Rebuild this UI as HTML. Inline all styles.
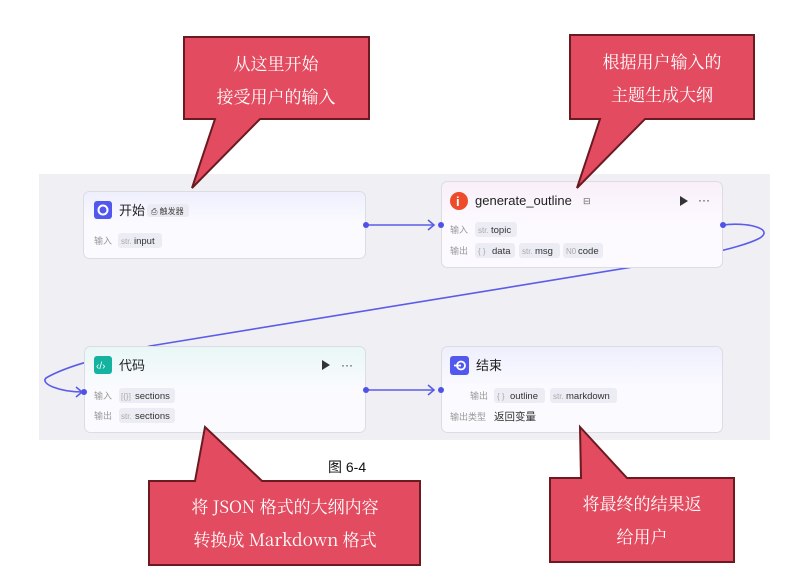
<!DOCTYPE html>
<html><head><meta charset="utf-8"><style>
html,body{margin:0;padding:0;background:#fff;}
svg{display:block;}
.n{font-family:"Liberation Sans","Noto Sans CJK SC",sans-serif;}
.c{font-family:"Noto Serif CJK SC","Liberation Serif",serif;fill:#fff;font-size:17px;}
.t{font-size:13px;fill:#222;}
.l{font-size:9px;fill:#999;}
.v{font-size:9.5px;fill:#333;}
.g{font-size:8px;fill:#aaa;}
</style></head><body>
<svg width="801" height="576" viewBox="0 0 801 576" xmlns="http://www.w3.org/2000/svg">
<defs>
<linearGradient id="gs" x1="0" y1="0" x2="0" y2="1"><stop offset="0" stop-color="#eeeffd"/><stop offset="0.5" stop-color="#fbfbff"/></linearGradient>
<linearGradient id="gg" x1="0" y1="0" x2="0" y2="1"><stop offset="0" stop-color="#f9eff9"/><stop offset="0.5" stop-color="#fcfaff"/></linearGradient>
<linearGradient id="gc" x1="0" y1="0" x2="0" y2="1"><stop offset="0" stop-color="#e8f7f5"/><stop offset="0.5" stop-color="#fbfbff"/></linearGradient>
<linearGradient id="ge" x1="0" y1="0" x2="0" y2="1"><stop offset="0" stop-color="#eeeffd"/><stop offset="0.5" stop-color="#fbfbff"/></linearGradient>
</defs>
<rect x="39" y="174" width="731" height="266" fill="#f0eff4"/>
<g fill="none" stroke="#5b5de8" stroke-width="1.6">
<path d="M366 225 H433"/><path d="M428 220 L434 225 L428 230"/>
<path d="M366 390 H433"/><path d="M428 385 L434 390 L428 395"/>
<path d="M723 225 C745 222 775 228 760 238 C745 246 715 252 700 256 L150 346 C110 356 70 364 46 378 C40 384 60 392 83 392"/>
<path d="M76 387 L82 392 L76 397"/>
</g>
<g class="n">
<!-- start node -->
<rect x="83.5" y="191.5" width="282" height="67" rx="6" fill="url(#gs)" stroke="#dcdce6"/>
<rect x="94" y="201" width="18" height="18" rx="3" fill="#5258ee"/><circle cx="103" cy="210" r="4.5" fill="none" stroke="#fff" stroke-width="2"/>
<text x="119" y="215" class="t">开始</text>
<rect x="147" y="204" width="42" height="13" rx="3" fill="#ebebf3"/><text x="151" y="214" style="font-size:8px;fill:#444">⎙ 触发器</text>
<text x="94" y="244" class="l">输入</text>
<rect x="118" y="233" width="44" height="15" rx="3" fill="#ececf4"/><text x="121" y="244" class="g">str.</text><text x="134" y="244" class="v">input</text>
<!-- generate -->
<rect x="441.5" y="181.5" width="281" height="86" rx="6" fill="url(#gg)" stroke="#dcdce6"/>
<circle cx="459" cy="201" r="9" fill="#ee4b2b"/><text x="456" y="206" style="font-size:13px;fill:#fff;font-weight:bold">i</text>
<text x="475" y="205" class="t">generate_outline</text><text x="583" y="204" style="font-size:9px;fill:#666">⊟</text>
<path d="M680 196 L688 201 L680 206Z" fill="#333"/><text x="698" y="204" style="font-size:12px;fill:#333">···</text>
<text x="450" y="233" class="l">输入</text>
<rect x="475" y="222" width="42" height="15" rx="3" fill="#ececf4"/><text x="478" y="233" class="g">str.</text><text x="491" y="233" class="v">topic</text>
<text x="450" y="254" class="l">输出</text>
<rect x="475" y="243" width="40" height="15" rx="3" fill="#ececf4"/><text x="478" y="254" class="g">{ }</text><text x="492" y="254" class="v">data</text>
<rect x="519" y="243" width="41" height="15" rx="3" fill="#ececf4"/><text x="522" y="254" class="g">str.</text><text x="535" y="254" class="v">msg</text>
<rect x="563" y="243" width="40" height="15" rx="3" fill="#ececf4"/><text x="566" y="254" class="g">N0</text><text x="578" y="254" class="v">code</text>
<!-- code -->
<rect x="84.5" y="346.5" width="281" height="86" rx="6" fill="url(#gc)" stroke="#dcdce6"/>
<rect x="94" y="356" width="18" height="18" rx="3" fill="#13b3a0"/><text x="96" y="369" style="font-size:10px;fill:#fff">‹/›</text>
<text x="119" y="370" class="t">代码</text>
<path d="M322 360 L330 365 L322 370Z" fill="#333"/><text x="341" y="369" style="font-size:12px;fill:#333">···</text>
<text x="94" y="399" class="l">输入</text>
<rect x="119" y="388" width="56" height="15" rx="3" fill="#ececf4"/><text x="121" y="399" class="g">[{}]</text><text x="135" y="399" class="v">sections</text>
<text x="94" y="419" class="l">输出</text>
<rect x="119" y="408" width="56" height="15" rx="3" fill="#ececf4"/><text x="121" y="419" class="g">str.</text><text x="135" y="419" class="v">sections</text>
<!-- end -->
<rect x="441.5" y="346.5" width="281" height="86" rx="6" fill="url(#ge)" stroke="#dcdce6"/>
<rect x="450" y="356" width="19" height="19" rx="3" fill="#5258ee"/><circle cx="461" cy="365.5" r="4" fill="none" stroke="#fff" stroke-width="1.8"/><path d="M454 365.5 H461" stroke="#fff" stroke-width="1.8"/>
<text x="476" y="370" class="t">结束</text>
<text x="470" y="399" class="l">输出</text>
<rect x="494" y="388" width="51" height="15" rx="3" fill="#ececf4"/><text x="497" y="399" class="g">{ }</text><text x="510" y="399" class="v">outline</text>
<rect x="550" y="388" width="67" height="15" rx="3" fill="#ececf4"/><text x="553" y="399" class="g">str.</text><text x="566" y="399" class="v">markdown</text>
<text x="450" y="420" class="l">输出类型</text><text x="494" y="420" style="font-size:10.5px;fill:#333">返回变量</text>
</g>
<g fill="#4f52e6"><circle cx="366" cy="225" r="3"/><circle cx="441" cy="225" r="3"/><circle cx="723" cy="225" r="3"/><circle cx="84" cy="392" r="3"/><circle cx="366" cy="390" r="3"/><circle cx="441" cy="390" r="3"/></g>
<text x="328" y="472" style="font-family:'Liberation Sans','Noto Sans CJK SC',sans-serif;font-size:14px;fill:#111">图 6-4</text>
<g fill="#e34c60" stroke="#6b1a22" stroke-width="2">
<path d="M184 37 H369 V119 H260 L192 188 L215 119 H184Z"/>
<path d="M570 35 H754 V119 H645 L577 188 L600 119 H570Z"/>
<path d="M149 481 H195 L205 427 L262 481 H420 V565 H149Z"/>
<path d="M550 478 H581 L580 427 L627 478 H734 V562 H550Z"/>
</g>
<g class="c" text-anchor="middle">
<text x="276" y="70">从这里开始</text><text x="276" y="103">接受用户的输入</text>
<text x="662" y="68">根据用户输入的</text><text x="662" y="101">主题生成大纲</text>
<text x="285" y="513">将 JSON 格式的大纲内容</text><text x="285" y="546">转换成 Markdown 格式</text>
<text x="642" y="510">将最终的结果返</text><text x="642" y="543">给用户</text>
</g>
</svg>
</body></html>
